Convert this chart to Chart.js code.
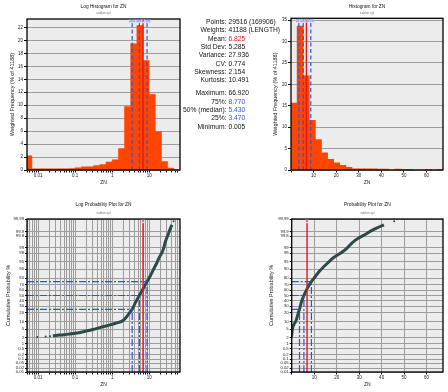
<!DOCTYPE html>
<html>
<head>
<meta charset="utf-8">
<title>ZN statistics</title>
<script src="https://cdn.jsdelivr.net/npm/chart.js@4.4.0/dist/chart.umd.min.js"></script>
<style>
  html, body { margin: 0; padding: 0; background: #fff; }
  #page { position: relative; width: 448px; height: 392px; overflow: hidden; }
  #page canvas { position: absolute; }
  #stats { position: absolute; left: 0; top: 0; width: 448px; font-family: "Liberation Sans", Arial, sans-serif; font-size: 6.7px; color: #111; }
  #stats div { position: absolute; left: 0; width: 448px; line-height: 8px; white-space: nowrap; }
  #stats .lab { position: absolute; left: 0; width: 226.5px; text-align: right; }
  #stats .val { position: absolute; left: 228.5px; }
</style>
</head>
<body>
<div id="page">
  <canvas id="logHist" width="200" height="196" style="left:0;top:0"></canvas>
  <canvas id="linHist" width="186" height="196" style="left:262px;top:0"></canvas>
  <canvas id="logProb" width="200" height="196" style="left:0;top:196px"></canvas>
  <canvas id="linProb" width="186" height="196" style="left:262px;top:196px"></canvas>
  <div id="stats"></div>
</div>
<script>
// ---- data ----
// log histogram: bin edges (ZN) and weighted frequency (%)
const logBinEdges = [0.00464, 0.00681, 0.01, 0.0147, 0.0215, 0.0316, 0.0464, 0.0681, 0.1, 0.147, 0.215, 0.316, 0.464, 0.681, 1, 1.47, 2.15, 3.16, 4.64, 6.81, 10, 14.7, 21.5, 31.6, 46.4, 68.1];
const logBinPct = [2.2, 0.2, 0.2, 0.2, 0.2, 0.2, 0.2, 0.25, 0.35, 0.5, 0.5, 0.7, 0.85, 1.25, 1.6, 3.3, 9.8, 19.5, 22.3, 16.9, 11.7, 5.9, 1.3, 0.3, 0.05];
// linear histogram
const linBinEdges = [0, 2.7, 5.4, 8.1, 10.8, 13.5, 16.2, 18.9, 21.6, 24.3, 27, 29.7, 32.4, 35.1, 37.8, 40.5, 43.2, 45.9, 48.6, 51.3, 54, 56.7, 59.4, 62.1, 64.8, 67.5];
const linBinPct = [15.6, 33.6, 22.0, 11.6, 7.1, 4.0, 2.5, 1.7, 1.1, 0.6, 0.3, 0.3, 0.25, 0.25, 0.2, 0.2, 0, 0.2, 0.15, 0.15, 0, 0, 0.15, 0, 0.15];
// cumulative probability curve
const cumZn = [0.025, 0.03, 0.05, 0.1, 0.2, 0.3, 0.46, 0.7, 1, 1.5, 2.0, 2.5, 3.0, 3.47, 4.2, 5.43, 6.2, 7.0, 7.8, 8.77, 9.8, 11, 12.5, 14, 16, 18, 20, 22, 24.5, 27, 30, 33, 35.5, 38, 41];
const cumPct = [2.5, 2.6, 2.85, 3.3, 4.2, 4.9, 5.9, 7.0, 8.1, 9.5, 11.5, 15.5, 20.5, 25, 36, 50, 57.5, 64, 69.5, 75, 79.5, 84, 88.5, 91.5, 94.3, 96.3, 97.4, 98.1, 98.9, 99.5, 99.75, 99.86, 99.92, 99.95, 99.97];
const tailZn = [0.0095, 0.016, 0.021, 45.6];
const tailPct = [2.2, 2.3, 2.4, 99.985];
// quartiles and mean
const quartileZn = [3.47, 5.43, 8.77];
const quartilePct = [25, 50, 75];
const quartileTags = ['25%', '50%', '75%'];
const meanZn = 6.825;
// probability axis tick labels
const probTicks = [0.01, 0.02, 0.05, 0.1, 0.2, 0.5, 1, 2, 5, 10, 20, 30, 40, 50, 60, 70, 80, 90, 95, 98, 99, 99.8, 99.9, 99.99];
// statistics block
const statLabels = ['Points:', 'Weights:', 'Mean:', 'Std Dev:', 'Variance:', 'CV:', 'Skewness:', 'Kurtosis:', 'Maximum:', '75%:', '50% (median):', '25%:', 'Minimum:'];
const statValues = ['29516 (169906)', '41188 (LENGTH)', '6.825', '5.285', '27.936', '0.774', '2.154', '10.491', '66.920', '8.770', '5.430', '3.470', '0.005'];

const BAR = '#ff4500';
const BLUE = '#3355c8';
const RED = '#e8141c';
const CURVE = '#2c4a48';
const GRID = '#9d9d9d';
const INK = '#222';

Chart.defaults.font.family = '"Liberation Sans", Arial, sans-serif';
Chart.defaults.color = INK;
Chart.defaults.animation = false;

// inverse normal CDF (Acklam) for the probability axis
function probit(p) {
  const a = [-39.69683028665376, 220.9460984245205, -275.9285104469687, 138.3577518672690, -30.66479806614716, 2.506628277459239];
  const b = [-54.47609879822406, 161.5858368580409, -155.6989798598866, 66.80131188771972, -13.28068155288572];
  const c = [-0.007784894002430293, -0.3223964580411365, -2.400758277161838, -2.549732539343734, 4.374664141464968, 2.938163982698783];
  const d = [0.007784695709041462, 0.3224671290700398, 2.445134137142996, 3.754408661907416];
  const lo = 0.02425;
  let q, r;
  if (p < lo) {
    q = Math.sqrt(-2 * Math.log(p));
    return (((((c[0]*q+c[1])*q+c[2])*q+c[3])*q+c[4])*q+c[5]) / ((((d[0]*q+d[1])*q+d[2])*q+d[3])*q+1);
  }
  if (p > 1 - lo) {
    q = Math.sqrt(-2 * Math.log(1 - p));
    return -(((((c[0]*q+c[1])*q+c[2])*q+c[3])*q+c[4])*q+c[5]) / ((((d[0]*q+d[1])*q+d[2])*q+d[3])*q+1);
  }
  q = p - 0.5; r = q * q;
  return (((((a[0]*r+a[1])*r+a[2])*r+a[3])*r+a[4])*r+a[5])*q / (((((b[0]*r+b[1])*r+b[2])*r+b[3])*r+b[4])*r+1);
}
const zOf = pct => probit(pct / 100);
const zMin = zOf(0.01), zMax = zOf(99.99);

// log axis ticks 1..9 per decade
const LOG_MIN = 0.005, LOG_MAX = 68;
const logTickValues = [];
for (let e = -3; e <= 1; e++) {
  for (let m = 1; m <= 9; m++) {
    const v = +(m * Math.pow(10, e)).toPrecision(3);
    if (v >= LOG_MIN && v <= LOG_MAX) logTickValues.push(v);
  }
}
const logLabel = v => Math.abs(Math.log10(v) - Math.round(Math.log10(v))) < 1e-9 ? String(v) : '';

// plot background, black frame, titles and small tags over vertical lines
const frame = {
  id: 'frame',
  beforeDraw(chart) {
    const a = chart.chartArea, ctx = chart.ctx;
    ctx.save();
    ctx.fillStyle = '#ececec';
    ctx.fillRect(a.left, a.top, a.width, a.height);
    ctx.restore();
  },
  afterDraw(chart, args, opts) {
    const a = chart.chartArea, ctx = chart.ctx;
    const cx = (a.left + a.right) / 2;
    ctx.save();
    ctx.strokeStyle = '#000';
    ctx.lineWidth = 1.3;
    ctx.strokeRect(a.left, a.top, a.width, a.height);
    ctx.textAlign = 'center';
    ctx.textBaseline = 'middle';
    ctx.fillStyle = '#111';
    ctx.font = '4.8px "Liberation Sans Narrow", "Liberation Sans", sans-serif';
    ctx.fillText(opts.title, cx, a.top + opts.titleY);
    ctx.fillStyle = '#777';
    ctx.font = '3.2px "Liberation Sans", sans-serif';
    ctx.fillText(opts.sub, cx, a.top + opts.subY);
    ctx.font = '3px "Liberation Sans", sans-serif';
    (opts.tags || []).forEach(t => {
      const x = chart.scales.x.getPixelForValue(t.x);
      const w = ctx.measureText(t.text).width + 1;
      ctx.fillStyle = 'rgba(215,220,245,0.95)';
      ctx.fillRect(x - w / 2, a.top + 0.6, w, 3.6);
      ctx.fillStyle = t.color;
      ctx.fillText(t.text, x, a.top + 2.4);
    });
    ctx.restore();
  }
};

function seg(points, color, dash, width) {
  return { type: 'line', data: points, borderColor: color, borderWidth: width, borderDash: dash,
           pointRadius: 0, fill: false, order: 1 };
}

function axisTitle(text, size, pad) {
  return { display: true, text: text, font: { size: size }, color: INK, padding: pad };
}

const tags = quartileZn.map((q, i) => ({ x: q, text: quartileTags[i], color: BLUE }))
  .concat([{ x: meanZn, text: 'M', color: RED }]);

// ---- log histogram ----
const histAMax = 23.3;
new Chart('logHist', {
  type: 'line',
  data: {
    datasets: [
      ...quartileZn.map(q => seg([{ x: q, y: 0 }, { x: q, y: histAMax }], BLUE, [4, 2.5], 1.2)),
      seg([{ x: meanZn, y: 0 }, { x: meanZn, y: histAMax }], RED, [], 1.4),
      {
        data: logBinEdges.map((e, i) => ({ x: e, y: i < logBinPct.length ? logBinPct[i] : 0 })),
        stepped: true, fill: 'origin', backgroundColor: BAR, borderColor: BAR, borderWidth: 0.5,
        pointRadius: 0, order: 10
      }
    ]
  },
  options: {
    responsive: false, events: [],
    layout: { padding: { top: 19, right: 20, left: 0, bottom: 0 } },
    plugins: {
      legend: { display: false }, tooltip: { enabled: false },
      frame: { title: 'Log Histogram for ZN', sub: 'sablon spl', titleY: -12, subY: -5.5, tags: tags }
    },
    scales: {
      x: {
        type: 'logarithmic', min: LOG_MIN, max: LOG_MAX,
        afterBuildTicks: s => { s.ticks = logTickValues.map(v => ({ value: v })); },
        afterFit: s => { s.height = 26; },
        ticks: { autoSkip: false, maxRotation: 0, font: { size: 4.5 }, padding: 0.5, callback: logLabel },
        grid: { drawOnChartArea: false, tickLength: 2.5, tickColor: '#000' },
        border: { display: false },
        title: axisTitle('ZN', 5, { top: 0, bottom: 10 })
      },
      y: {
        min: 0, max: histAMax,
        afterFit: s => { s.width = 27; },
        ticks: { stepSize: 2, includeBounds: false, font: { size: 4.5 }, padding: 1 },
        grid: { color: GRID, tickColor: '#000', tickLength: 3 },
        border: { display: false },
        title: axisTitle('Weighted Frequency (% of 41188)', 5.5, { top: 8.7, bottom: 0 })
      }
    }
  },
  plugins: [frame]
});

// ---- linear histogram ----
const histBMax = 35.4;
new Chart('linHist', {
  type: 'bar',
  data: {
    datasets: [
      ...quartileZn.map(q => seg([{ x: q, y: 0 }, { x: q, y: histBMax }], BLUE, [4, 2.5], 1.2)),
      seg([{ x: meanZn, y: 0 }, { x: meanZn, y: histBMax }], RED, [], 1.4),
      {
        type: 'bar',
        data: linBinPct.map((h, i) => ({ x: (linBinEdges[i] + linBinEdges[i + 1]) / 2, y: h })),
        backgroundColor: BAR, borderWidth: 0, barPercentage: 1, categoryPercentage: 1, order: 10
      }
    ]
  },
  options: {
    responsive: false, events: [],
    layout: { padding: { top: 18.3, right: 5, left: 0, bottom: 0 } },
    plugins: {
      legend: { display: false }, tooltip: { enabled: false },
      frame: { title: 'Histogram for ZN', sub: 'sablon spl', titleY: -12, subY: -4.8, tags: tags }
    },
    scales: {
      x: {
        type: 'linear', min: 0, max: 67.3, offset: false,
        afterFit: s => { s.height = 26; },
        ticks: { stepSize: 10, includeBounds: false, maxRotation: 0, font: { size: 4.5 }, padding: 0.5,
                 callback: v => v === 0 ? '' : v },
        grid: { offset: false, drawOnChartArea: false, tickLength: 2.5, tickColor: '#000' },
        border: { display: false },
        title: axisTitle('ZN', 5, { top: 0, bottom: 10 })
      },
      y: {
        min: 0, max: histBMax,
        afterFit: s => { s.width = 29; },
        ticks: { stepSize: 5, includeBounds: false, font: { size: 4.5 }, padding: 1 },
        grid: { color: GRID, tickColor: '#000', tickLength: 3 },
        border: { display: false },
        title: axisTitle('Weighted Frequency (% of 41188)', 5.5, { top: 9.7, bottom: 0 })
      }
    }
  },
  plugins: [frame]
});

// ---- probability plots ----
function probDatasets(xStart) {
  const sets = [];
  quartileZn.forEach((q, i) => {
    const z = zOf(quartilePct[i]);
    sets.push(seg([{ x: xStart, y: z }, { x: q, y: z }], BLUE, [7, 2, 2, 2], 1.2));
    sets.push(seg([{ x: q, y: zMin }, { x: q, y: z }], BLUE, [7, 2, 2, 2], 1.2));
  });
  sets.push(seg([{ x: meanZn, y: zMin }, { x: meanZn, y: zMax }], RED, [], 1.4));
  sets.push({
    type: 'line', data: cumZn.map((v, i) => ({ x: v, y: zOf(cumPct[i]) })),
    borderColor: CURVE, borderWidth: 3, pointRadius: 0, fill: false, order: 5,
    cubicInterpolationMode: 'monotone'
  });
  sets.push({
    type: 'scatter', data: tailZn.map((v, i) => ({ x: v, y: zOf(tailPct[i]) })),
    backgroundColor: CURVE, borderWidth: 0, pointRadius: 1, order: 5
  });
  return sets;
}

function probY(width, titlePad) {
  return {
    type: 'linear', min: zMin, max: zMax,
    afterBuildTicks: s => { s.ticks = probTicks.map(p => ({ value: zOf(p) })); },
    afterFit: s => { s.width = width; },
    ticks: { autoSkip: false, font: { size: 4.2 }, padding: 1, callback: (v, i) => String(probTicks[i]) },
    grid: { color: GRID, tickColor: '#000', tickLength: 2 },
    border: { display: false },
    title: axisTitle('Cumulative Probability %', 5.5, { top: titlePad, bottom: 0 })
  };
}

const probTags = [{ x: meanZn, text: 'M', color: RED }];

new Chart('logProb', {
  type: 'scatter',
  data: { datasets: probDatasets(LOG_MIN) },
  options: {
    responsive: false, events: [],
    layout: { padding: { top: 23, right: 20, left: 0, bottom: 0 } },
    plugins: {
      legend: { display: false }, tooltip: { enabled: false },
      frame: { title: 'Log Probability Plot for ZN', sub: 'sablon spl', titleY: -14, subY: -6, tags: probTags }
    },
    scales: {
      x: {
        type: 'logarithmic', min: LOG_MIN, max: LOG_MAX,
        afterBuildTicks: s => { s.ticks = logTickValues.map(v => ({ value: v })); },
        afterFit: s => { s.height = 20; },
        ticks: { autoSkip: false, maxRotation: 0, font: { size: 4.5 }, padding: 0.5, callback: logLabel },
        grid: { color: GRID, tickLength: 2.5, tickColor: '#000' },
        border: { display: false },
        title: axisTitle('ZN', 5, { top: 0, bottom: 4 })
      },
      y: probY(27, 4.7)
    }
  },
  plugins: [frame]
});

new Chart('linProb', {
  type: 'scatter',
  data: { datasets: probDatasets(0) },
  options: {
    responsive: false, events: [],
    layout: { padding: { top: 23, right: 5, left: 0, bottom: 0 } },
    plugins: {
      legend: { display: false }, tooltip: { enabled: false },
      frame: { title: 'Probability Plot for ZN', sub: 'sablon spl', titleY: -14, subY: -6, tags: probTags }
    },
    scales: {
      x: {
        type: 'linear', min: 0, max: 67.3,
        afterFit: s => { s.height = 20; },
        ticks: { stepSize: 10, includeBounds: false, maxRotation: 0, font: { size: 4.5 }, padding: 0.5,
                 callback: v => v === 0 ? '' : v },
        grid: { color: GRID, tickLength: 2.5, tickColor: '#000' },
        border: { display: false },
        title: axisTitle('ZN', 5, { top: 0, bottom: 4 })
      },
      y: probY(29.7, 5.7)
    }
  },
  plugins: [frame]
});

// ---- statistics text ----
const statColors = statLabels.map((l, i) => i === 2 ? RED : (i >= 9 && i <= 11 ? BLUE : '#111'));
const statsBox = document.getElementById('stats');
statLabels.forEach((lab, i) => {
  const row = document.createElement('div');
  row.style.top = (18 + i * 8.3 + (i >= 8 ? 5 : 0)) + 'px';
  const l = document.createElement('span');
  l.className = 'lab';
  l.textContent = lab;
  const v = document.createElement('span');
  v.className = 'val';
  v.style.color = statColors[i];
  v.textContent = statValues[i];
  row.appendChild(l);
  row.appendChild(v);
  statsBox.appendChild(row);
});
</script>
</body>
</html>
